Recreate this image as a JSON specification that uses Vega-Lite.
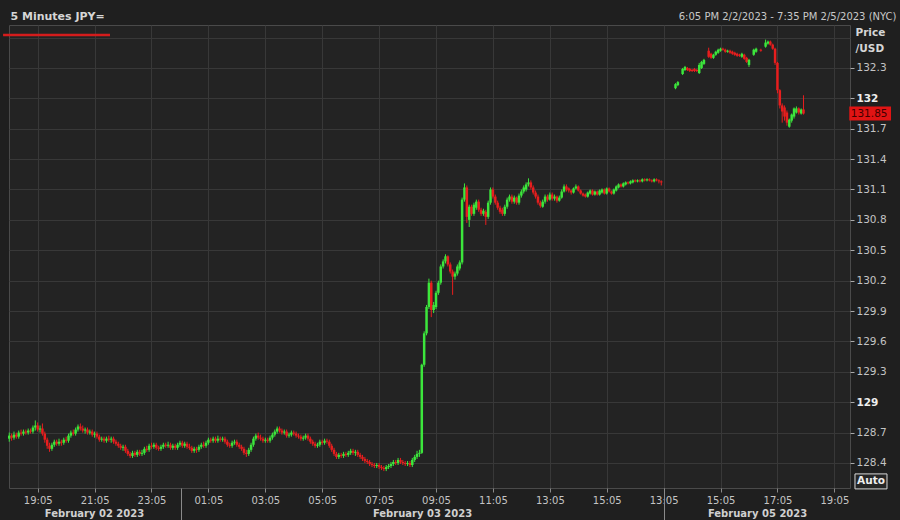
{
"$schema": "https://vega.github.io/schema/vega-lite/v6.json",
"width": 841, "height": 463,
"autosize": {"type": "none"},
"padding": {"left": 9, "top": 25, "right": 50, "bottom": 32},
"background": "#1f1f1f",
"config": {"view": {"fill": "#232323", "stroke": "#4a4a4a", "strokeWidth": 1}, "axis": {"labelFont": "DejaVu Sans", "titleFont": "DejaVu Sans"}, "scale": {"continuousPadding": 0}},
"datasets": {"bars": [
{"i":0,"o":128.64,"h":128.70,"l":128.61,"c":128.67},{"i":1,"o":128.67,"h":128.69,"l":128.62,"c":128.65},{"i":2,"o":128.65,"h":128.71,"l":128.63,"c":128.68},{"i":3,"o":128.68,"h":128.70,"l":128.64,"c":128.66},{"i":4,"o":128.66,"h":128.72,"l":128.64,"c":128.70},{"i":5,"o":128.70,"h":128.73,"l":128.67,"c":128.69},{"i":6,"o":128.69,"h":128.73,"l":128.67,"c":128.71},{"i":7,"o":128.71,"h":128.73,"l":128.68,"c":128.70},{"i":8,"o":128.70,"h":128.74,"l":128.68,"c":128.72},{"i":9,"o":128.72,"h":128.74,"l":128.69,"c":128.71},
{"i":10,"o":128.71,"h":128.77,"l":128.69,"c":128.75},{"i":11,"o":128.75,"h":128.82,"l":128.72,"c":128.77},{"i":12,"o":128.77,"h":128.80,"l":128.71,"c":128.73},{"i":13,"o":128.73,"h":128.77,"l":128.70,"c":128.74},{"i":14,"o":128.74,"h":128.79,"l":128.67,"c":128.69},{"i":15,"o":128.69,"h":128.71,"l":128.60,"c":128.63},{"i":16,"o":128.63,"h":128.65,"l":128.54,"c":128.57},{"i":17,"o":128.57,"h":128.60,"l":128.51,"c":128.54},{"i":18,"o":128.54,"h":128.60,"l":128.52,"c":128.58},{"i":19,"o":128.58,"h":128.63,"l":128.56,"c":128.61},
{"i":20,"o":128.61,"h":128.63,"l":128.57,"c":128.59},{"i":21,"o":128.59,"h":128.64,"l":128.57,"c":128.61},{"i":22,"o":128.61,"h":128.63,"l":128.57,"c":128.60},{"i":23,"o":128.60,"h":128.65,"l":128.58,"c":128.63},{"i":24,"o":128.63,"h":128.66,"l":128.60,"c":128.62},{"i":25,"o":128.62,"h":128.69,"l":128.60,"c":128.67},{"i":26,"o":128.67,"h":128.72,"l":128.65,"c":128.70},{"i":27,"o":128.70,"h":128.73,"l":128.67,"c":128.69},{"i":28,"o":128.69,"h":128.75,"l":128.67,"c":128.73},{"i":29,"o":128.73,"h":128.78,"l":128.71,"c":128.76},
{"i":30,"o":128.76,"h":128.79,"l":128.72,"c":128.74},{"i":31,"o":128.74,"h":128.77,"l":128.70,"c":128.72},{"i":32,"o":128.72,"h":128.75,"l":128.69,"c":128.73},{"i":33,"o":128.73,"h":128.75,"l":128.68,"c":128.70},{"i":34,"o":128.70,"h":128.73,"l":128.68,"c":128.71},{"i":35,"o":128.71,"h":128.73,"l":128.66,"c":128.68},{"i":36,"o":128.68,"h":128.71,"l":128.65,"c":128.69},{"i":37,"o":128.69,"h":128.71,"l":128.64,"c":128.66},{"i":38,"o":128.66,"h":128.68,"l":128.61,"c":128.63},{"i":39,"o":128.63,"h":128.66,"l":128.61,"c":128.64},
{"i":40,"o":128.64,"h":128.66,"l":128.60,"c":128.62},{"i":41,"o":128.62,"h":128.66,"l":128.60,"c":128.64},{"i":42,"o":128.64,"h":128.67,"l":128.61,"c":128.63},{"i":43,"o":128.63,"h":128.66,"l":128.60,"c":128.64},{"i":44,"o":128.64,"h":128.66,"l":128.59,"c":128.61},{"i":45,"o":128.61,"h":128.63,"l":128.57,"c":128.59},{"i":46,"o":128.59,"h":128.61,"l":128.55,"c":128.57},{"i":47,"o":128.57,"h":128.59,"l":128.53,"c":128.55},{"i":48,"o":128.55,"h":128.58,"l":128.52,"c":128.56},{"i":49,"o":128.56,"h":128.58,"l":128.50,"c":128.52},
{"i":50,"o":128.52,"h":128.54,"l":128.47,"c":128.49},{"i":51,"o":128.49,"h":128.51,"l":128.45,"c":128.47},{"i":52,"o":128.47,"h":128.52,"l":128.45,"c":128.50},{"i":53,"o":128.50,"h":128.52,"l":128.46,"c":128.48},{"i":54,"o":128.48,"h":128.53,"l":128.46,"c":128.51},{"i":55,"o":128.51,"h":128.53,"l":128.47,"c":128.49},{"i":56,"o":128.49,"h":128.53,"l":128.47,"c":128.50},{"i":57,"o":128.50,"h":128.56,"l":128.48,"c":128.54},{"i":58,"o":128.54,"h":128.57,"l":128.51,"c":128.53},{"i":59,"o":128.53,"h":128.59,"l":128.51,"c":128.57},
{"i":60,"o":128.57,"h":128.60,"l":128.54,"c":128.56},{"i":61,"o":128.56,"h":128.60,"l":128.54,"c":128.58},{"i":62,"o":128.58,"h":128.60,"l":128.53,"c":128.55},{"i":63,"o":128.55,"h":128.57,"l":128.52,"c":128.54},{"i":64,"o":128.54,"h":128.58,"l":128.52,"c":128.56},{"i":65,"o":128.56,"h":128.60,"l":128.54,"c":128.58},{"i":66,"o":128.58,"h":128.60,"l":128.55,"c":128.57},{"i":67,"o":128.57,"h":128.61,"l":128.55,"c":128.58},{"i":68,"o":128.58,"h":128.60,"l":128.53,"c":128.55},{"i":69,"o":128.55,"h":128.59,"l":128.53,"c":128.57},
{"i":70,"o":128.57,"h":128.59,"l":128.53,"c":128.55},{"i":71,"o":128.55,"h":128.60,"l":128.53,"c":128.58},{"i":72,"o":128.58,"h":128.62,"l":128.56,"c":128.60},{"i":73,"o":128.60,"h":128.62,"l":128.55,"c":128.57},{"i":74,"o":128.57,"h":128.61,"l":128.55,"c":128.59},{"i":75,"o":128.59,"h":128.61,"l":128.54,"c":128.56},{"i":76,"o":128.56,"h":128.59,"l":128.53,"c":128.55},{"i":77,"o":128.55,"h":128.57,"l":128.50,"c":128.52},{"i":78,"o":128.52,"h":128.56,"l":128.50,"c":128.54},{"i":79,"o":128.54,"h":128.56,"l":128.50,"c":128.53},
{"i":80,"o":128.53,"h":128.58,"l":128.51,"c":128.56},{"i":81,"o":128.56,"h":128.60,"l":128.54,"c":128.58},{"i":82,"o":128.58,"h":128.61,"l":128.55,"c":128.57},{"i":83,"o":128.57,"h":128.62,"l":128.55,"c":128.60},{"i":84,"o":128.60,"h":128.65,"l":128.58,"c":128.63},{"i":85,"o":128.63,"h":128.65,"l":128.60,"c":128.62},{"i":86,"o":128.62,"h":128.66,"l":128.60,"c":128.64},{"i":87,"o":128.64,"h":128.66,"l":128.60,"c":128.62},{"i":88,"o":128.62,"h":128.67,"l":128.60,"c":128.64},{"i":89,"o":128.64,"h":128.66,"l":128.61,"c":128.63},
{"i":90,"o":128.63,"h":128.66,"l":128.61,"c":128.64},{"i":91,"o":128.64,"h":128.66,"l":128.59,"c":128.61},{"i":92,"o":128.61,"h":128.63,"l":128.56,"c":128.58},{"i":93,"o":128.58,"h":128.60,"l":128.55,"c":128.57},{"i":94,"o":128.57,"h":128.62,"l":128.55,"c":128.60},{"i":95,"o":128.60,"h":128.63,"l":128.58,"c":128.61},{"i":96,"o":128.61,"h":128.63,"l":128.56,"c":128.58},{"i":97,"o":128.58,"h":128.60,"l":128.54,"c":128.56},{"i":98,"o":128.56,"h":128.58,"l":128.52,"c":128.54},{"i":99,"o":128.54,"h":128.56,"l":128.48,"c":128.50},
{"i":100,"o":128.50,"h":128.53,"l":128.46,"c":128.49},{"i":101,"o":128.49,"h":128.55,"l":128.47,"c":128.53},{"i":102,"o":128.53,"h":128.60,"l":128.51,"c":128.58},{"i":103,"o":128.58,"h":128.66,"l":128.56,"c":128.64},{"i":104,"o":128.64,"h":128.69,"l":128.62,"c":128.67},{"i":105,"o":128.67,"h":128.70,"l":128.63,"c":128.65},{"i":106,"o":128.65,"h":128.68,"l":128.62,"c":128.64},{"i":107,"o":128.64,"h":128.66,"l":128.60,"c":128.62},{"i":108,"o":128.62,"h":128.65,"l":128.60,"c":128.63},{"i":109,"o":128.63,"h":128.65,"l":128.60,"c":128.62},
{"i":110,"o":128.62,"h":128.67,"l":128.60,"c":128.65},{"i":111,"o":128.65,"h":128.70,"l":128.63,"c":128.68},{"i":112,"o":128.68,"h":128.73,"l":128.66,"c":128.71},{"i":113,"o":128.71,"h":128.76,"l":128.69,"c":128.74},{"i":114,"o":128.74,"h":128.76,"l":128.70,"c":128.72},{"i":115,"o":128.72,"h":128.74,"l":128.68,"c":128.70},{"i":116,"o":128.70,"h":128.73,"l":128.68,"c":128.71},{"i":117,"o":128.71,"h":128.73,"l":128.65,"c":128.67},{"i":118,"o":128.67,"h":128.70,"l":128.65,"c":128.68},{"i":119,"o":128.68,"h":128.72,"l":128.66,"c":128.70},
{"i":120,"o":128.70,"h":128.72,"l":128.67,"c":128.69},{"i":121,"o":128.69,"h":128.71,"l":128.65,"c":128.67},{"i":122,"o":128.67,"h":128.69,"l":128.64,"c":128.66},{"i":123,"o":128.66,"h":128.68,"l":128.62,"c":128.64},{"i":124,"o":128.64,"h":128.67,"l":128.62,"c":128.65},{"i":125,"o":128.65,"h":128.69,"l":128.63,"c":128.67},{"i":126,"o":128.67,"h":128.69,"l":128.62,"c":128.64},{"i":127,"o":128.64,"h":128.66,"l":128.59,"c":128.61},{"i":128,"o":128.61,"h":128.63,"l":128.57,"c":128.59},{"i":129,"o":128.59,"h":128.61,"l":128.55,"c":128.57},
{"i":130,"o":128.57,"h":128.60,"l":128.55,"c":128.58},{"i":131,"o":128.58,"h":128.63,"l":128.56,"c":128.61},{"i":132,"o":128.61,"h":128.63,"l":128.58,"c":128.60},{"i":133,"o":128.60,"h":128.64,"l":128.58,"c":128.62},{"i":134,"o":128.62,"h":128.64,"l":128.59,"c":128.61},{"i":135,"o":128.61,"h":128.63,"l":128.55,"c":128.57},{"i":136,"o":128.57,"h":128.59,"l":128.51,"c":128.53},{"i":137,"o":128.53,"h":128.55,"l":128.47,"c":128.49},{"i":138,"o":128.49,"h":128.51,"l":128.44,"c":128.46},{"i":139,"o":128.46,"h":128.50,"l":128.44,"c":128.48},
{"i":140,"o":128.48,"h":128.50,"l":128.45,"c":128.47},{"i":141,"o":128.47,"h":128.51,"l":128.45,"c":128.49},{"i":142,"o":128.49,"h":128.51,"l":128.46,"c":128.48},{"i":143,"o":128.48,"h":128.52,"l":128.46,"c":128.50},{"i":144,"o":128.50,"h":128.54,"l":128.48,"c":128.52},{"i":145,"o":128.52,"h":128.54,"l":128.48,"c":128.50},{"i":146,"o":128.50,"h":128.53,"l":128.47,"c":128.51},{"i":147,"o":128.51,"h":128.53,"l":128.46,"c":128.48},{"i":148,"o":128.48,"h":128.50,"l":128.44,"c":128.46},{"i":149,"o":128.46,"h":128.48,"l":128.42,"c":128.44},
{"i":150,"o":128.44,"h":128.46,"l":128.40,"c":128.42},{"i":151,"o":128.42,"h":128.44,"l":128.39,"c":128.41},{"i":152,"o":128.41,"h":128.43,"l":128.37,"c":128.39},{"i":153,"o":128.39,"h":128.41,"l":128.36,"c":128.38},{"i":154,"o":128.38,"h":128.40,"l":128.35,"c":128.37},{"i":155,"o":128.37,"h":128.40,"l":128.35,"c":128.38},{"i":156,"o":128.38,"h":128.40,"l":128.34,"c":128.36},{"i":157,"o":128.36,"h":128.38,"l":128.33,"c":128.35},{"i":158,"o":128.35,"h":128.37,"l":128.32,"c":128.34},{"i":159,"o":128.34,"h":128.38,"l":128.32,"c":128.36},
{"i":160,"o":128.36,"h":128.39,"l":128.34,"c":128.37},{"i":161,"o":128.37,"h":128.41,"l":128.35,"c":128.39},{"i":162,"o":128.39,"h":128.43,"l":128.37,"c":128.41},{"i":163,"o":128.41,"h":128.43,"l":128.38,"c":128.40},{"i":164,"o":128.40,"h":128.45,"l":128.38,"c":128.43},{"i":165,"o":128.43,"h":128.45,"l":128.39,"c":128.41},{"i":166,"o":128.41,"h":128.43,"l":128.38,"c":128.40},{"i":167,"o":128.40,"h":128.42,"l":128.37,"c":128.39},{"i":168,"o":128.39,"h":128.42,"l":128.37,"c":128.40},{"i":169,"o":128.40,"h":128.42,"l":128.36,"c":128.38},
{"i":170,"o":128.38,"h":128.45,"l":128.36,"c":128.43},{"i":171,"o":128.43,"h":128.48,"l":128.41,"c":128.46},{"i":172,"o":128.46,"h":128.52,"l":128.44,"c":128.49},{"i":173,"o":128.49,"h":128.53,"l":128.46,"c":128.50},{"i":174,"o":128.50,"h":129.38,"l":128.49,"c":129.37},{"i":175,"o":129.37,"h":129.70,"l":129.35,"c":129.68},{"i":176,"o":129.68,"h":129.96,"l":129.66,"c":129.94},{"i":177,"o":129.94,"h":130.22,"l":129.92,"c":130.18},{"i":178,"o":130.18,"h":130.20,"l":129.84,"c":129.91},{"i":179,"o":129.91,"h":129.99,"l":129.88,"c":129.96},
{"i":180,"o":129.94,"h":130.10,"l":129.92,"c":130.08},{"i":181,"o":130.08,"h":130.20,"l":130.06,"c":130.18},{"i":182,"o":130.18,"h":130.36,"l":130.16,"c":130.34},{"i":183,"o":130.34,"h":130.41,"l":130.32,"c":130.39},{"i":184,"o":130.39,"h":130.46,"l":130.37,"c":130.44},{"i":185,"o":130.44,"h":130.45,"l":130.34,"c":130.36},{"i":186,"o":130.36,"h":130.38,"l":130.27,"c":130.29},{"i":187,"o":130.29,"h":130.31,"l":130.06,"c":130.24},{"i":188,"o":130.24,"h":130.29,"l":130.21,"c":130.27},{"i":189,"o":130.27,"h":130.36,"l":130.25,"c":130.34},
{"i":190,"o":130.32,"h":130.40,"l":130.30,"c":130.38},{"i":191,"o":130.38,"h":131.02,"l":130.36,"c":131.00},{"i":192,"o":131.00,"h":131.16,"l":130.98,"c":131.12},{"i":193,"o":131.12,"h":131.14,"l":130.77,"c":130.83},{"i":194,"o":130.80,"h":130.95,"l":130.73,"c":130.93},{"i":195,"o":130.93,"h":130.95,"l":130.84,"c":130.86},{"i":196,"o":130.86,"h":130.97,"l":130.84,"c":130.95},{"i":197,"o":130.92,"h":131.00,"l":130.90,"c":130.98},{"i":198,"o":130.98,"h":131.00,"l":130.88,"c":130.90},{"i":199,"o":130.90,"h":130.92,"l":130.84,"c":130.86},
{"i":200,"o":130.86,"h":130.91,"l":130.84,"c":130.89},{"i":201,"o":130.88,"h":130.90,"l":130.75,"c":130.83},{"i":202,"o":130.83,"h":130.99,"l":130.81,"c":130.97},{"i":203,"o":130.97,"h":131.12,"l":130.95,"c":131.10},{"i":204,"o":131.10,"h":131.12,"l":131.01,"c":131.03},{"i":205,"o":131.03,"h":131.05,"l":130.95,"c":130.97},{"i":206,"o":130.97,"h":130.99,"l":130.90,"c":130.92},{"i":207,"o":130.92,"h":130.94,"l":130.86,"c":130.88},{"i":208,"o":130.90,"h":130.92,"l":130.84,"c":130.86},{"i":209,"o":130.86,"h":130.95,"l":130.84,"c":130.93},
{"i":210,"o":130.93,"h":131.02,"l":130.91,"c":131.00},{"i":211,"o":131.00,"h":131.05,"l":130.98,"c":131.03},{"i":212,"o":131.03,"h":131.05,"l":130.96,"c":130.98},{"i":213,"o":130.98,"h":131.04,"l":130.96,"c":131.02},{"i":214,"o":131.02,"h":131.03,"l":130.95,"c":130.97},{"i":215,"o":130.97,"h":131.06,"l":130.95,"c":131.04},{"i":216,"o":131.04,"h":131.10,"l":131.02,"c":131.08},{"i":217,"o":131.08,"h":131.14,"l":131.06,"c":131.12},{"i":218,"o":131.10,"h":131.17,"l":131.08,"c":131.15},{"i":219,"o":131.15,"h":131.21,"l":131.13,"c":131.17},
{"i":220,"o":131.17,"h":131.19,"l":131.10,"c":131.12},{"i":221,"o":131.12,"h":131.14,"l":131.05,"c":131.07},{"i":222,"o":131.07,"h":131.09,"l":131.01,"c":131.03},{"i":223,"o":131.03,"h":131.05,"l":130.95,"c":130.97},{"i":224,"o":130.97,"h":130.99,"l":130.92,"c":130.94},{"i":225,"o":130.93,"h":131.00,"l":130.92,"c":130.98},{"i":226,"o":130.98,"h":131.05,"l":130.96,"c":131.03},{"i":227,"o":131.03,"h":131.05,"l":130.98,"c":131.00},{"i":228,"o":131.00,"h":131.07,"l":130.99,"c":131.05},{"i":229,"o":131.05,"h":131.07,"l":130.99,"c":131.01},
{"i":230,"o":131.01,"h":131.05,"l":130.99,"c":131.03},{"i":231,"o":131.03,"h":131.04,"l":130.97,"c":130.99},{"i":232,"o":130.99,"h":131.04,"l":130.98,"c":131.02},{"i":233,"o":131.02,"h":131.10,"l":131.01,"c":131.08},{"i":234,"o":131.08,"h":131.15,"l":131.07,"c":131.13},{"i":235,"o":131.13,"h":131.15,"l":131.08,"c":131.10},{"i":236,"o":131.11,"h":131.12,"l":131.07,"c":131.09},{"i":237,"o":131.09,"h":131.10,"l":131.05,"c":131.07},{"i":238,"o":131.07,"h":131.12,"l":131.06,"c":131.11},{"i":239,"o":131.11,"h":131.15,"l":131.10,"c":131.13},
{"i":240,"o":131.13,"h":131.14,"l":131.08,"c":131.09},{"i":241,"o":131.09,"h":131.10,"l":131.05,"c":131.06},{"i":242,"o":131.06,"h":131.07,"l":131.03,"c":131.04},{"i":243,"o":131.05,"h":131.06,"l":131.02,"c":131.03},{"i":244,"o":131.03,"h":131.08,"l":131.02,"c":131.07},{"i":245,"o":131.06,"h":131.10,"l":131.05,"c":131.09},{"i":246,"o":131.09,"h":131.10,"l":131.04,"c":131.05},{"i":247,"o":131.05,"h":131.09,"l":131.04,"c":131.08},{"i":248,"o":131.08,"h":131.09,"l":131.04,"c":131.05},{"i":249,"o":131.05,"h":131.10,"l":131.04,"c":131.09},
{"i":250,"o":131.07,"h":131.11,"l":131.06,"c":131.10},{"i":251,"o":131.10,"h":131.11,"l":131.05,"c":131.06},{"i":252,"o":131.06,"h":131.12,"l":131.05,"c":131.11},{"i":253,"o":131.11,"h":131.12,"l":131.07,"c":131.08},{"i":254,"o":131.08,"h":131.09,"l":131.05,"c":131.06},{"i":255,"o":131.06,"h":131.11,"l":131.05,"c":131.10},{"i":256,"o":131.09,"h":131.14,"l":131.08,"c":131.13},{"i":257,"o":131.12,"h":131.16,"l":131.11,"c":131.15},{"i":258,"o":131.15,"h":131.16,"l":131.12,"c":131.13},{"i":259,"o":131.13,"h":131.17,"l":131.12,"c":131.16},
{"i":260,"o":131.15,"h":131.18,"l":131.14,"c":131.17},{"i":261,"o":131.17,"h":131.18,"l":131.15,"c":131.16},{"i":262,"o":131.16,"h":131.19,"l":131.15,"c":131.18},{"i":263,"o":131.17,"h":131.20,"l":131.16,"c":131.19},{"i":264,"o":131.19,"h":131.20,"l":131.17,"c":131.18},{"i":265,"o":131.18,"h":131.20,"l":131.17,"c":131.19},{"i":266,"o":131.19,"h":131.20,"l":131.17,"c":131.18},{"i":267,"o":131.18,"h":131.21,"l":131.17,"c":131.20},{"i":268,"o":131.20,"h":131.21,"l":131.18,"c":131.19},{"i":269,"o":131.19,"h":131.21,"l":131.18,"c":131.20},
{"i":270,"o":131.20,"h":131.21,"l":131.18,"c":131.19},{"i":271,"o":131.19,"h":131.20,"l":131.17,"c":131.18},{"i":272,"o":131.18,"h":131.21,"l":131.17,"c":131.20},{"i":273,"o":131.20,"h":131.21,"l":131.18,"c":131.19},{"i":274,"o":131.19,"h":131.20,"l":131.16,"c":131.18},{"i":275,"o":131.18,"h":131.19,"l":131.14,"c":131.17},
{"i":281,"o":132.10,"h":132.15,"l":132.09,"c":132.14},{"i":282,"o":132.13,"h":132.17,"l":132.12,"c":132.16},{"i":284,"o":132.24,"h":132.30,"l":132.23,"c":132.29},{"i":285,"o":132.28,"h":132.32,"l":132.27,"c":132.31},{"i":286,"o":132.30,"h":132.31,"l":132.27,"c":132.28},{"i":287,"o":132.29,"h":132.30,"l":132.26,"c":132.27},{"i":288,"o":132.28,"h":132.29,"l":132.26,"c":132.27},{"i":289,"o":132.29,"h":132.30,"l":132.26,"c":132.27},{"i":290,"o":132.28,"h":132.29,"l":132.26,"c":132.27},
{"i":291,"o":132.25,"h":132.35,"l":132.24,"c":132.33},{"i":292,"o":132.30,"h":132.37,"l":132.29,"c":132.36},{"i":293,"o":132.34,"h":132.39,"l":132.33,"c":132.38},{"i":295,"o":132.47,"h":132.50,"l":132.40,"c":132.41},{"i":296,"o":132.44,"h":132.45,"l":132.39,"c":132.40},{"i":297,"o":132.40,"h":132.44,"l":132.39,"c":132.43},{"i":298,"o":132.43,"h":132.47,"l":132.42,"c":132.46},{"i":299,"o":132.45,"h":132.49,"l":132.44,"c":132.48},
{"i":300,"o":132.47,"h":132.50,"l":132.46,"c":132.49},{"i":301,"o":132.49,"h":132.50,"l":132.47,"c":132.48},{"i":302,"o":132.48,"h":132.49,"l":132.45,"c":132.46},{"i":303,"o":132.46,"h":132.48,"l":132.45,"c":132.47},{"i":304,"o":132.47,"h":132.48,"l":132.44,"c":132.45},{"i":305,"o":132.46,"h":132.47,"l":132.43,"c":132.44},{"i":306,"o":132.45,"h":132.46,"l":132.42,"c":132.43},{"i":307,"o":132.44,"h":132.45,"l":132.41,"c":132.42},{"i":308,"o":132.43,"h":132.44,"l":132.41,"c":132.42},{"i":309,"o":132.41,"h":132.45,"l":132.40,"c":132.44},
{"i":310,"o":132.43,"h":132.44,"l":132.38,"c":132.39},{"i":311,"o":132.40,"h":132.41,"l":132.35,"c":132.36},{"i":312,"o":132.33,"h":132.39,"l":132.31,"c":132.38},{"i":314,"o":132.43,"h":132.49,"l":132.42,"c":132.48},{"i":315,"o":132.46,"h":132.50,"l":132.45,"c":132.49},{"i":317,"o":132.48,"h":132.49,"l":132.46,"c":132.47},{"i":319,"o":132.51,"h":132.58,"l":132.50,"c":132.55},
{"i":320,"o":132.54,"h":132.57,"l":132.53,"c":132.56},{"i":321,"o":132.56,"h":132.57,"l":132.52,"c":132.53},{"i":322,"o":132.53,"h":132.54,"l":132.48,"c":132.49},{"i":323,"o":132.49,"h":132.50,"l":132.33,"c":132.35},{"i":324,"o":132.35,"h":132.36,"l":132.05,"c":132.08},{"i":325,"o":132.08,"h":132.09,"l":131.90,"c":131.93},{"i":326,"o":131.93,"h":131.95,"l":131.76,"c":131.87},{"i":327,"o":131.91,"h":131.93,"l":131.78,"c":131.82},{"i":328,"o":131.86,"h":131.88,"l":131.73,"c":131.76},{"i":329,"o":131.72,"h":131.80,"l":131.71,"c":131.79},
{"i":330,"o":131.78,"h":131.85,"l":131.76,"c":131.84},{"i":331,"o":131.82,"h":131.91,"l":131.80,"c":131.90},{"i":332,"o":131.86,"h":131.92,"l":131.85,"c":131.90},{"i":333,"o":131.90,"h":131.91,"l":131.84,"c":131.86},{"i":334,"o":131.85,"h":131.90,"l":131.84,"c":131.89},{"i":335,"o":131.89,"h":132.03,"l":131.84,"c":131.85}
]},
"resolve": {"axis": {"x": "independent", "y": "independent"}},
"layer": [
{"data": {"name": "bars"}, "mark": {"type": "rule", "strokeWidth": 1},
 "encoding": {
  "x": {"field": "i", "type": "quantitative", "scale": {"domain": [-0.1, 354.6], "nice": false, "zero": false, "padding": 0}, "axis": null},
  "y": {"field": "l", "type": "quantitative", "scale": {"domain": [128.153, 132.724], "nice": false, "zero": false, "padding": 0}, "axis": null},
  "y2": {"field": "h"},
  "color": {"condition": {"test": "datum.c >= datum.o", "value": "#3ce63c"}, "value": "#e81e1e"}}},
{"data": {"name": "bars"}, "mark": {"type": "bar", "size": 2.5},
 "encoding": {
  "x": {"field": "i", "type": "quantitative", "scale": {"domain": [-0.1, 354.6], "nice": false, "zero": false, "padding": 0},
   "axis": {"orient": "bottom", "title": null, "values": [12,36,60,84,108,132,156,180,204,228,252,276,300,324,348],
    "labelExpr": "['19:05','21:05','23:05','01:05','03:05','05:05','07:05','09:05','11:05','13:05','15:05','13:05','15:05','17:05','19:05'][indexof([12,36,60,84,108,132,156,180,204,228,252,276,300,324,348], datum.value)]",
    "grid": true, "gridColor": "#383838", "domain": false, "tickColor": "#8a8a8a", "tickSize": 4, "labelPadding": 3,
    "labelColor": "#c4c4c4", "labelFontSize": 10, "labelFlush": false, "labelOverlap": false}},
  "y": {"field": "o", "type": "quantitative", "scale": {"domain": [128.153, 132.724], "nice": false, "zero": false, "padding": 0},
   "axis": {"orient": "right", "values": [128.4,128.7,129,129.3,129.6,129.9,130.2,130.5,130.8,131.1,131.4,131.7,132,132.3,132.6],
    "labelExpr": "datum.value > 132.5 ? '' : (datum.value % 1 === 0 ? format(datum.value, 'd') : format(datum.value, '.1f'))",
    "grid": true, "gridColor": "#383838", "domain": false, "tickColor": "#aaaaaa", "tickSize": 4, "labelPadding": 2,
    "tickOpacity": {"condition": {"test": "datum.value > 132.5", "value": 0}, "value": 1},
    "labelFontWeight": {"condition": {"test": "datum.value % 1 === 0", "value": "bold"}, "value": "normal"},
    "labelColor": {"condition": {"test": "datum.value % 1 === 0", "value": "#eeeeee"}, "value": "#c4c4c4"},
    "labelFontSize": 10.5, "labelOverlap": false, "labelFlush": false,
    "title": ["Price", "/USD"], "titleAngle": 0, "titleAlign": "left", "titleBaseline": "top", "titleX": 5, "titleY": 2,
    "titleFontWeight": "bold", "titleFontSize": 10.5, "titleColor": "#d6d6d6", "titleLineHeight": 16}},
  "y2": {"field": "c"},
  "color": {"condition": {"test": "datum.c >= datum.o", "value": "#3ce63c"}, "value": "#e81e1e"}}},
{"data": {"values": [{"i": 0}]}, "mark": {"type": "rule", "opacity": 0},
 "encoding": {"x": {"field": "i", "type": "quantitative", "scale": {"domain": [-0.1, 354.6], "nice": false, "zero": false, "padding": 0},
   "axis": {"orient": "bottom", "title": null, "values": [35.75, 174.1, 315.4],
    "labelExpr": "datum.value < 100 ? 'February 02 2023' : (datum.value < 250 ? 'February 03 2023' : 'February 05 2023')",
    "ticks": false, "domain": false, "grid": false, "labelPadding": 20, "labelFontWeight": "bold", "labelFontSize": 10,
    "labelColor": "#d0d0d0", "labelFlush": false, "labelOverlap": false}}}},
{"data": {"values": [{"i": 0}]}, "mark": {"type": "rule", "opacity": 0},
 "encoding": {"x": {"field": "i", "type": "quantitative", "scale": {"domain": [-0.1, 354.6], "nice": false, "zero": false, "padding": 0},
   "axis": {"orient": "bottom", "title": null, "values": [72.5, 276], "labels": false, "ticks": true, "tickSize": 32,
    "tickColor": "#8a8a8a", "domain": false, "grid": false}}}},
{"data": {"values": [{"i": 0}]}, "mark": {"type": "rule", "opacity": 0},
 "encoding": {"x": {"field": "i", "type": "quantitative", "scale": {"domain": [-0.1, 354.6], "nice": false, "zero": false, "padding": 0},
   "axis": {"orient": "top", "labels": false, "ticks": false, "domain": false, "grid": false,
    "title": "6:05 PM 2/2/2023 - 7:35 PM 2/5/2023 (NYC)", "titleAnchor": "end", "titleAlign": "right", "titleX": 887, "titleY": -6,
    "titleBaseline": "alphabetic", "titleAngle": 0, "titleFontWeight": "normal", "titleFontSize": 10, "titleColor": "#c8c8c8"}}}},
{"data": {"values": [{"i": 0}]}, "mark": {"type": "rule", "opacity": 0},
 "encoding": {"x": {"field": "i", "type": "quantitative", "scale": {"domain": [-0.1, 354.6], "nice": false, "zero": false, "padding": 0},
   "axis": {"orient": "top", "labels": false, "ticks": false, "domain": false, "grid": false,
    "title": "5 Minutes JPY=", "titleAnchor": "start", "titleAlign": "left", "titleX": 1, "titleY": -6,
    "titleBaseline": "alphabetic", "titleAngle": 0, "titleFontWeight": "bold", "titleFontSize": 11, "titleColor": "#d6d6d6"}}}},
{"data": {"values": [{"last": 131.85}]}, "mark": {"type": "bar", "orient": "horizontal", "size": 14, "color": "#e01414"},
 "encoding": {"x": {"datum": 354.3, "type": "quantitative", "scale": {"domain": [-0.1, 354.6], "nice": false, "zero": false, "padding": 0}, "axis": null},
  "x2": {"datum": 371.9},
  "y": {"field": "last", "type": "quantitative", "scale": {"domain": [128.153, 132.724], "nice": false, "zero": false, "padding": 0}, "axis": null}}},
{"data": {"values": [{"last": 131.85}]}, "mark": {"type": "text", "align": "left", "baseline": "middle", "dx": 1, "fontSize": 10.5, "font": "DejaVu Sans", "color": "#400000"},
 "encoding": {"x": {"datum": 354.5, "type": "quantitative", "scale": {"domain": [-0.1, 354.6], "nice": false, "zero": false, "padding": 0}, "axis": null},
  "y": {"field": "last", "type": "quantitative", "scale": {"domain": [128.153, 132.724], "nice": false, "zero": false, "padding": 0}, "axis": null},
  "text": {"field": "last", "type": "quantitative", "format": ".2f"}}},
{"data": {"values": [{"label": "Auto"}]}, "mark": {"type": "rect", "fill": "#262626", "stroke": "#d8d8d8", "strokeWidth": 1},
 "encoding": {"x": {"datum": 356.7, "type": "quantitative", "scale": {"domain": [-0.1, 354.6], "nice": false, "zero": false, "padding": 0}, "axis": null},
  "x2": {"datum": 370.2},
  "y": {"datum": 128.292, "type": "quantitative", "scale": {"domain": [128.153, 132.724], "nice": false, "zero": false, "padding": 0}, "axis": null},
  "y2": {"datum": 128.144}}},
{"data": {"values": [{"label": "Auto"}]}, "mark": {"type": "text", "align": "center", "baseline": "middle", "fontSize": 10.5, "fontWeight": "bold", "font": "DejaVu Sans", "color": "#eeeeee"},
 "encoding": {"x": {"datum": 363.45, "type": "quantitative", "scale": {"domain": [-0.1, 354.6], "nice": false, "zero": false, "padding": 0}, "axis": null},
  "y": {"datum": 128.218, "type": "quantitative", "scale": {"domain": [128.153, 132.724], "nice": false, "zero": false, "padding": 0}, "axis": null},
  "text": {"field": "label"}}},
{"data": {"values": [{"series": "JPY="}]}, "mark": {"type": "rule", "color": "#d41c1c", "strokeWidth": 2.5},
 "encoding": {"x": {"datum": -2.6, "type": "quantitative", "scale": {"domain": [-0.1, 354.6], "nice": false, "zero": false, "padding": 0}, "axis": null},
  "x2": {"datum": 42.5},
  "y": {"datum": 132.626, "type": "quantitative", "scale": {"domain": [128.153, 132.724], "nice": false, "zero": false, "padding": 0}, "axis": null}}}
]
}
